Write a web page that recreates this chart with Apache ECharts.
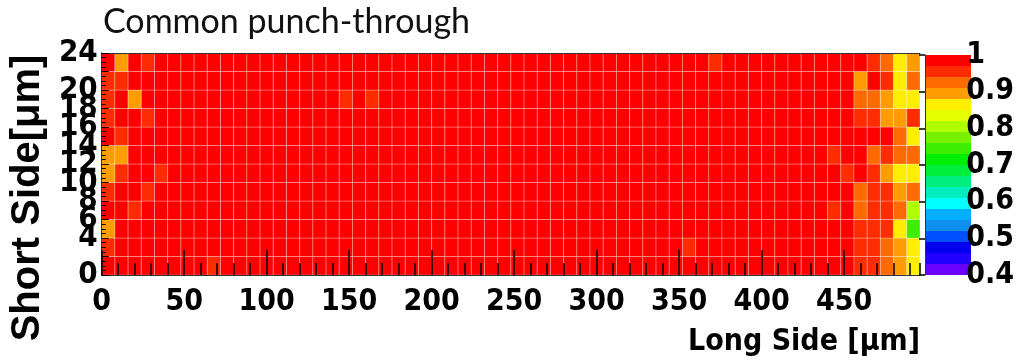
<!DOCTYPE html>
<html>
<head>
<meta charset="utf-8">
<script src="https://cdn.jsdelivr.net/npm/echarts@6/dist/echarts.min.js"></script>
<style>
  html, body { margin: 0; padding: 0; background: #fff; }
  #chart { width: 1017px; height: 364px; }
</style>
</head>
<body>
<div id="chart"></div>
<script>
// Lower bin edges along the long side (µm), 8 µm bins
const longSideBins = [0, 8, 16, 24, 32, 40, 48, 56, 64, 72, 80, 88, 96, 104, 112, 120,
  128, 136, 144, 152, 160, 168, 176, 184, 192, 200, 208, 216, 224, 232, 240, 248,
  256, 264, 272, 280, 288, 296, 304, 312, 320, 328, 336, 344, 352, 360, 368, 376,
  384, 392, 400, 408, 416, 424, 432, 440, 448, 456, 464, 472, 480, 488];
// Lower bin edges along the short side (µm), 2 µm bins
const shortSideBins = [0, 2, 4, 6, 8, 10, 12, 14, 16, 18, 20, 22];

// Efficiency per cell, one array per short-side bin (bin starting at y µm), 62 long-side bins each
const eff_y0 = [0.99,0.99,0.99,0.99,0.99,0.99,0.99,0.99,0.96,0.99,0.99,0.99,0.99,0.99,0.99,0.99,0.99,0.99,0.99,0.99,0.99,0.99,0.99,0.99,0.99,0.99,0.99,0.99,0.99,0.99,0.99,0.99,0.99,0.99,0.99,0.99,0.99,0.99,0.99,0.99,0.99,0.99,0.99,0.99,0.99,0.99,0.99,0.99,0.99,0.99,0.99,0.99,0.99,0.99,0.99,0.99,0.99,0.96,0.96,0.92,0.895,0.865];
const eff_y2 = [0.96,0.99,0.99,0.99,0.99,0.99,0.99,0.99,0.99,0.99,0.99,0.99,0.99,0.99,0.99,0.99,0.99,0.99,0.99,0.99,0.99,0.99,0.99,0.99,0.99,0.99,0.99,0.99,0.99,0.99,0.99,0.99,0.99,0.99,0.99,0.99,0.99,0.99,0.99,0.99,0.99,0.99,0.99,0.99,0.96,0.99,0.99,0.99,0.99,0.99,0.99,0.99,0.99,0.99,0.99,0.99,0.99,0.96,0.955,0.92,0.895,0.865];
const eff_y4 = [0.895,0.99,0.99,0.99,0.99,0.99,0.99,0.99,0.99,0.99,0.99,0.99,0.99,0.99,0.99,0.99,0.99,0.99,0.99,0.99,0.99,0.99,0.99,0.99,0.99,0.99,0.99,0.99,0.99,0.99,0.99,0.99,0.99,0.99,0.99,0.99,0.99,0.99,0.99,0.99,0.99,0.99,0.99,0.99,0.99,0.99,0.99,0.99,0.99,0.99,0.99,0.99,0.99,0.99,0.99,0.99,0.99,0.955,0.955,0.955,0.865,0.74];
const eff_y6 = [0.99,0.99,0.955,0.99,0.99,0.99,0.99,0.99,0.99,0.99,0.99,0.99,0.99,0.99,0.99,0.99,0.99,0.99,0.99,0.99,0.99,0.99,0.99,0.99,0.99,0.99,0.99,0.99,0.99,0.99,0.99,0.99,0.99,0.99,0.99,0.99,0.99,0.99,0.99,0.99,0.99,0.99,0.99,0.99,0.99,0.99,0.99,0.99,0.99,0.99,0.99,0.99,0.99,0.99,0.99,0.955,0.99,0.92,0.955,0.955,0.92,0.81];
const eff_y8 = [0.955,0.99,0.99,0.955,0.99,0.99,0.99,0.99,0.99,0.99,0.99,0.99,0.99,0.99,0.99,0.99,0.99,0.99,0.99,0.99,0.99,0.99,0.99,0.99,0.99,0.99,0.99,0.99,0.99,0.99,0.99,0.99,0.99,0.99,0.99,0.99,0.99,0.99,0.99,0.99,0.99,0.99,0.99,0.99,0.99,0.99,0.99,0.99,0.99,0.99,0.99,0.99,0.99,0.99,0.99,0.99,0.99,0.92,0.955,0.955,0.895,0.92];
const eff_y10 = [0.895,0.955,0.99,0.99,0.955,0.99,0.99,0.99,0.99,0.99,0.99,0.99,0.99,0.99,0.99,0.99,0.99,0.99,0.99,0.99,0.99,0.99,0.99,0.99,0.99,0.99,0.99,0.99,0.99,0.99,0.99,0.99,0.99,0.99,0.99,0.99,0.99,0.99,0.99,0.99,0.99,0.99,0.99,0.99,0.99,0.99,0.99,0.99,0.99,0.99,0.99,0.99,0.99,0.99,0.99,0.99,0.955,0.99,0.955,0.895,0.865,0.865];
const eff_y12 = [0.895,0.895,0.99,0.99,0.99,0.99,0.99,0.99,0.99,0.99,0.99,0.99,0.99,0.99,0.99,0.99,0.99,0.99,0.99,0.99,0.99,0.99,0.99,0.99,0.99,0.99,0.99,0.99,0.99,0.99,0.99,0.99,0.99,0.99,0.99,0.99,0.99,0.99,0.99,0.99,0.99,0.99,0.99,0.99,0.99,0.99,0.99,0.99,0.99,0.99,0.99,0.99,0.99,0.99,0.99,0.955,0.99,0.99,0.92,0.955,0.92,0.92];
const eff_y14 = [0.99,0.955,0.99,0.99,0.99,0.99,0.99,0.99,0.99,0.99,0.99,0.99,0.99,0.99,0.99,0.99,0.99,0.99,0.99,0.99,0.99,0.99,0.99,0.99,0.99,0.99,0.99,0.99,0.99,0.99,0.99,0.99,0.99,0.99,0.99,0.99,0.99,0.99,0.99,0.99,0.99,0.99,0.99,0.99,0.99,0.99,0.99,0.99,0.99,0.99,0.99,0.99,0.99,0.99,0.99,0.99,0.99,0.99,0.99,0.98,0.92,0.865];
const eff_y16 = [0.955,0.99,0.99,0.955,0.99,0.99,0.99,0.99,0.99,0.99,0.99,0.99,0.99,0.99,0.99,0.99,0.99,0.99,0.99,0.99,0.99,0.99,0.99,0.99,0.99,0.99,0.99,0.99,0.99,0.99,0.99,0.99,0.99,0.99,0.99,0.99,0.99,0.99,0.99,0.99,0.99,0.99,0.99,0.99,0.99,0.99,0.99,0.99,0.99,0.99,0.99,0.99,0.99,0.99,0.99,0.99,0.99,0.955,0.955,0.895,0.895,0.955];
const eff_y18 = [0.955,0.99,0.895,0.99,0.99,0.99,0.99,0.99,0.99,0.99,0.99,0.99,0.99,0.99,0.99,0.99,0.99,0.99,0.955,0.99,0.955,0.99,0.99,0.99,0.99,0.99,0.99,0.99,0.99,0.99,0.99,0.99,0.99,0.99,0.99,0.99,0.99,0.99,0.99,0.99,0.99,0.99,0.99,0.99,0.99,0.99,0.99,0.99,0.99,0.99,0.99,0.99,0.99,0.99,0.99,0.99,0.99,0.92,0.92,0.895,0.865,0.865];
const eff_y20 = [0.955,0.955,0.99,0.99,0.99,0.99,0.99,0.99,0.99,0.99,0.99,0.99,0.99,0.99,0.99,0.99,0.99,0.99,0.99,0.99,0.99,0.99,0.99,0.99,0.99,0.99,0.99,0.99,0.99,0.99,0.99,0.99,0.99,0.99,0.99,0.99,0.99,0.99,0.99,0.99,0.99,0.99,0.99,0.99,0.99,0.99,0.99,0.99,0.99,0.99,0.99,0.99,0.99,0.99,0.99,0.99,0.99,0.895,0.98,0.955,0.865,0.92];
const eff_y22 = [0.99,0.895,0.99,0.955,0.99,0.99,0.99,0.99,0.99,0.99,0.99,0.99,0.99,0.99,0.99,0.99,0.99,0.99,0.99,0.99,0.99,0.99,0.99,0.99,0.99,0.99,0.99,0.99,0.99,0.99,0.99,0.99,0.99,0.99,0.99,0.99,0.99,0.99,0.99,0.99,0.99,0.99,0.99,0.99,0.99,0.99,0.955,0.99,0.99,0.99,0.99,0.99,0.99,0.99,0.99,0.99,0.99,0.98,0.955,0.92,0.865,0.895];

const effRows = [eff_y0, eff_y2, eff_y4, eff_y6, eff_y8, eff_y10, eff_y12, eff_y14, eff_y16, eff_y18, eff_y20, eff_y22];

// Palette bands of the colour scale, from 0.4 to 1 in steps of 0.03
const bandLower = [0.40, 0.43, 0.46, 0.49, 0.52, 0.55, 0.58, 0.61, 0.64, 0.67,
                   0.70, 0.73, 0.76, 0.79, 0.82, 0.85, 0.88, 0.91, 0.94, 0.97];
const bandUpper = [0.43, 0.46, 0.49, 0.52, 0.55, 0.58, 0.61, 0.64, 0.67, 0.70,
                   0.73, 0.76, 0.79, 0.82, 0.85, 0.88, 0.91, 0.94, 0.97, 1.00];
const bandColors = ['#6a00ff', '#2200ff', '#0000f0', '#0050ff', '#1090ee', '#00b0ff', '#00ffff',
                    '#00eec0', '#00ee80', '#00ee3c', '#00ee00', '#3cee00', '#77f000', '#b0ff00',
                    '#e4ff00', '#ffee00', '#ff9c00', '#ff6a00', '#ff2c00', '#ff0000'];

const X_BIN = 8, Y_BIN = 2;

const cells = [];
effRows.forEach((row, j) => {
  row.forEach((v, i) => cells.push([longSideBins[i], shortSideBins[j], v]));
});

const pieces = bandLower.map((lo, k) => (
  k === bandLower.length - 1
    ? { gte: lo, lte: bandUpper[k], color: bandColors[k] }
    : { gte: lo, lt: bandUpper[k], color: bandColors[k] }
));

const axisFont = '"DejaVu Sans Condensed", "Liberation Sans Narrow", sans-serif';
const black = '#000';

const chart = echarts.init(document.getElementById('chart'), null, { renderer: 'canvas' });

chart.setOption({
  animation: false,
  backgroundColor: '#fff',
  title: {
    text: 'Common punch-through',
    left: 103,
    top: 5,
    padding: 0,
    textStyle: { fontFamily: 'Lato, "Open Sans", sans-serif', fontSize: 34, fontWeight: 'normal', color: '#111' }
  },
  grid: [
    { left: 95, top: 53, width: 825, height: 222 },
    { left: 925, top: 55, width: 46, height: 220 }
  ],
  visualMap: {
    type: 'piecewise',
    seriesIndex: 0,
    dimension: 2,
    pieces: pieces,
    orient: 'vertical',
    left: 925,
    top: 55,
    padding: 0,
    itemWidth: 46,
    itemHeight: 11,
    itemGap: 0,
    itemSymbol: 'rect',
    showLabel: false,
    selectedMode: false,
    hoverLink: false
  },
  xAxis: [
    {
      gridIndex: 0, type: 'value', min: 0, max: 496, interval: 50, position: 'bottom', z: 10,
      axisLine: { show: true, lineStyle: { color: '#333', width: 1 } },
      axisTick: { show: true, inside: true, length: 25, lineStyle: { color: black, width: 1.5 } },
      axisLabel: { show: true, showMinLabel: true, showMaxLabel: false, margin: 12, color: black, fontFamily: axisFont, fontWeight: 'bold', fontSize: 30 },
      splitLine: { show: false },
      name: 'Long Side [μm]',
      nameLocation: 'end',
      nameGap: 0,
      nameTextStyle: { align: 'right', verticalAlign: 'top', padding: [52, 0, 0, 0], color: black, fontFamily: axisFont, fontWeight: 'bold', fontSize: 30 }
    },
    {
      gridIndex: 0, type: 'value', min: 0, max: 496, interval: 10, position: 'bottom', z: 10,
      axisLine: { show: false },
      axisTick: { show: true, inside: true, length: 12, lineStyle: { color: black, width: 1.5 } },
      axisLabel: { show: false },
      splitLine: { show: false }
    },
    {
      gridIndex: 0, type: 'value', min: 0, max: 496, position: 'top', z: 10,
      axisLine: { show: true, lineStyle: { color: '#333', width: 1 } },
      axisTick: { show: false }, axisLabel: { show: false }, splitLine: { show: false }
    },
    {
      gridIndex: 1, type: 'value', min: 0, max: 1, show: false
    }
  ],
  yAxis: [
    {
      gridIndex: 0, type: 'value', min: 0, max: 24, interval: 2, position: 'left', z: 10,
      axisLine: { show: true, lineStyle: { color: '#333', width: 1 } },
      axisTick: { show: true, inside: true, length: 7, lineStyle: { color: black, width: 1 } },
      minorTick: { show: true, splitNumber: 4, length: 4, lineStyle: { color: black, width: 1 } },
      axisLabel: { show: true, showMinLabel: true, showMaxLabel: true, hideOverlap: false, margin: 4, color: black, fontFamily: axisFont, fontWeight: 'bold', fontSize: 31 },
      splitLine: { show: false },
      name: 'Short Side[μm]',
      nameLocation: 'middle',
      nameRotate: 90,
      nameGap: 50,
      nameTextStyle: { color: black, fontFamily: '"Liberation Sans", Arial, sans-serif', fontWeight: 'bold', fontSize: 40, padding: [0, 68, 0, 0] }
    },
    {
      gridIndex: 0, type: 'value', min: 0, max: 24, position: 'right', z: 10,
      axisLine: { show: true, lineStyle: { color: '#333', width: 1 } },
      axisTick: { show: false }, axisLabel: { show: false }, splitLine: { show: false }
    },
    {
      gridIndex: 1, type: 'value', min: 0.4, max: 1, interval: 0.1, position: 'right', z: 10,
      axisLine: { show: true, lineStyle: { color: '#333', width: 1 } },
      axisTick: { show: true, inside: true, length: 6, lineStyle: { color: black, width: 1.5 } },
      axisLabel: { show: true, showMinLabel: true, showMaxLabel: true, margin: 4, color: black, fontFamily: axisFont, fontWeight: 'bold', fontSize: 30 },
      splitLine: { show: false }
    }
  ],
  series: [
    {
      type: 'custom',
      xAxisIndex: 0,
      yAxisIndex: 0,
      silent: true,
      clip: true,
      data: cells,
      encode: { x: 0, y: 1 },
      renderItem: function (params, api) {
        const x0 = api.value(0);
        const y0 = api.value(1);
        const corner = api.coord([x0, y0 + Y_BIN]);
        const size = api.size([X_BIN, Y_BIN]);
        return {
          type: 'rect',
          shape: { x: corner[0], y: corner[1], width: size[0], height: size[1] },
          style: { fill: api.visual('color'), stroke: 'rgba(255,255,255,0.28)', lineWidth: 1 }
        };
      }
    }
  ]
});
</script>
</body>
</html>
